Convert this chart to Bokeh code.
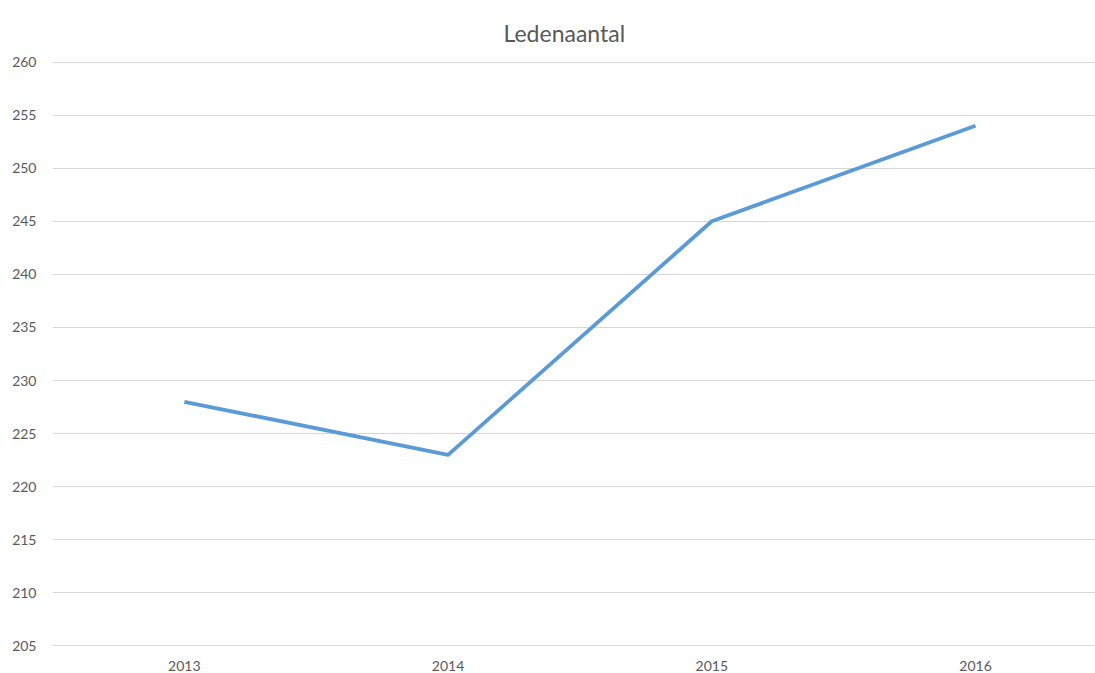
from bokeh.plotting import figure
from bokeh.models import Range1d, FixedTicker, Title
from bokeh.embed import file_html
from bokeh.resources import INLINE

years = [2013, 2014, 2015, 2016]
members = [228, 223, 245, 254]
y_ticks = list(range(205, 261, 5))
title_text = "Ledenaantal"

FONT = "Lato"
GRAY = "#595959"

p = figure(width=1095, height=673, output_backend="svg", toolbar_location=None,
           x_range=Range1d(2012.5, 2016.455), y_range=Range1d(204.95, 260.05),
           min_border_left=52, min_border_right=0, min_border_top=61, min_border_bottom=26)
p.title = Title(text=title_text, align="left", offset=451, standoff=29,
                text_font=FONT, text_font_size="23px", text_color=GRAY, text_font_style="normal")

p.line(years, members, line_color="#5B9BD5", line_width=3.8, line_join="round")

p.outline_line_color = None
p.xgrid.grid_line_color = None
p.ygrid.grid_line_color = "#D6D6D6"
p.ygrid.grid_line_width = 1
p.yaxis.ticker = FixedTicker(ticks=y_ticks)
p.xaxis.ticker = FixedTicker(ticks=years)
for ax in (p.xaxis, p.yaxis):
    ax.axis_line_color = None
    ax.major_tick_line_color = None
    ax.minor_tick_line_color = None
    ax.major_label_text_font = FONT
    ax.major_label_text_font_size = "14px"
    ax.major_label_text_color = GRAY
p.yaxis.major_label_standoff = 10
p.xaxis.major_label_standoff = 8

open("out.html", "w").write(file_html(p, INLINE))
